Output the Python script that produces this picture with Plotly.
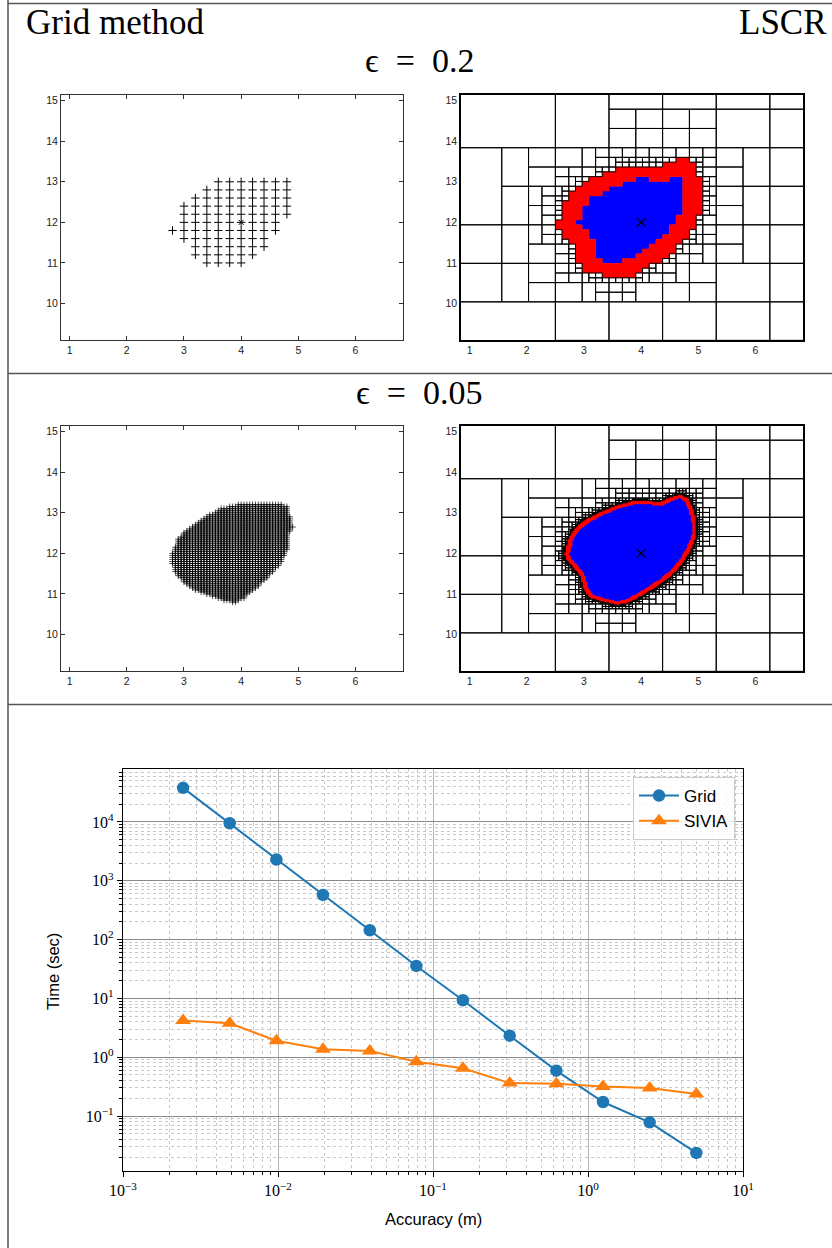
import numpy as np
import plotly.graph_objects as go

W, H = 832, 1248

# ---------------- bottom chart: timing data ----------------
accuracy_m = [0.00244, 0.00488, 0.00977, 0.0195, 0.0391, 0.0781, 0.156, 0.3125, 0.625, 1.25, 2.5, 5.0]
grid_time_s = [38000, 9500, 2300, 575, 144, 35.6, 9.3, 2.32, 0.59, 0.173, 0.078, 0.0236]
sivia_time_s = [4.2, 3.77, 1.91, 1.37, 1.28, 0.84, 0.65, 0.363, 0.354, 0.317, 0.30, 0.236]
x_tick_vals = [1e-3, 1e-2, 1e-1, 1, 10]
x_tick_text = ["10<sup>−3</sup>", "10<sup>−2</sup>", "10<sup>−1</sup>", "10<sup>0</sup>", "10<sup>1</sup>"]
y_tick_vals = [0.1, 1, 10, 100, 1000, 10000]
y_tick_text = ["10<sup>−1</sup>", "10<sup>0</sup>", "10<sup>1</sup>", "10<sup>2</sup>", "10<sup>3</sup>", "10<sup>4</sup>"]

# ---------------- top panels ----------------
panel_xticks = [1, 2, 3, 4, 5, 6]
panel_yticks = [10, 11, 12, 13, 14, 15]
panel_xrange = [0.85, 6.83]
panel_yrange = [9.1, 15.14]
true_x, true_y = [4.0], [12.0]

# grid method, eps = 0.2 : rows of accepted grid points
grid02_row_y = [13.0, 12.8, 12.6, 12.4, 12.2, 12.0, 11.8, 11.6, 11.4, 11.2, 11.0]
grid02_row_xmin = [3.6, 3.4, 3.2, 3.0, 3.0, 3.0, 2.8, 3.0, 3.2, 3.2, 3.4]
grid02_row_xmax = [4.8, 4.8, 4.8, 4.8, 4.8, 4.6, 4.6, 4.4, 4.4, 4.2, 4.0]

# grid method, eps = 0.05 : outline of accepted region
grid005_x = [2.76, 2.83, 2.92, 3.06, 3.24, 3.41, 3.68, 3.88, 4.0, 4.17, 4.35, 4.53, 4.67, 4.79,
             4.82, 4.85, 4.91, 4.85, 4.85, 4.59, 4.0, 3.68, 3.41, 3.18, 3.0, 2.89, 2.83, 2.76]
grid005_y = [11.87, 11.58, 11.40, 11.22, 11.06, 10.97, 10.85, 10.79, 10.85, 11.02, 11.26, 11.50,
             11.72, 12.03, 12.15, 12.52, 12.62, 12.93, 13.18, 13.22, 13.22, 13.13, 12.93, 12.69,
             12.52, 12.36, 12.11, 11.95]

# LSCR confidence region outline (outer edge of the eps = 0.05 paving)
lscr_x = [2.69, 2.76, 2.87, 3.05, 3.34, 3.63, 3.92, 4.16, 4.33, 4.50, 4.68, 4.80, 4.88, 4.94,
          4.94, 4.85, 4.71, 4.56, 4.39, 4.21, 3.98, 3.75, 3.57, 3.34, 3.11, 3.02, 2.96, 2.82, 2.71]
lscr_y = [11.99, 12.36, 12.61, 12.81, 13.02, 13.18, 13.28, 13.26, 13.22, 13.34, 13.42, 13.34,
          13.10, 12.77, 12.44, 12.11, 11.79, 11.54, 11.34, 11.17, 10.97, 10.80, 10.76, 10.84,
          10.93, 11.13, 11.46, 11.70, 11.87]

# SIVIA root box, large outer boxes kept unsplit, and pessimism of the test
root_box = [-5.0, 10.0, 4.34, 19.54]
coarse_outer_boxes = [
    [0.625, 2.5, 13.84, 15.74],
    [2.5, 3.4375, 13.84, 15.74],
    [0.625, 1.5625, 11.94, 13.84],
    [0.625, 2.5, 8.14, 10.04],
]
eps_values = [0.2, 0.05]
MIN_DEPTH = 8
ALPHA_OUT, B_OUT, BETA_IN = 0.68, 0.0, 1.1


def point_in_poly(px, py, vx, vy):
    px = np.asarray(px, float)
    py = np.asarray(py, float)
    inside = np.zeros(px.shape, bool)
    n = len(vx)
    j = n - 1
    for i in range(n):
        xi, yi, xj, yj = vx[i], vy[i], vx[j], vy[j]
        if yi != yj:
            cond = ((yi > py) != (yj > py)) & (px < (xj - xi) * (py - yi) / (yj - yi) + xi)
            inside ^= cond
        j = i
    return inside


def densify(vx, vy, n=40):
    xs, ys = [], []
    m = len(vx)
    for i in range(m):
        a, b = i, (i + 1) % m
        t = np.linspace(0, 1, n, endpoint=False)
        xs.append(vx[a] + (vx[b] - vx[a]) * t)
        ys.append(vy[a] + (vy[b] - vy[a]) * t)
    return np.concatenate(xs), np.concatenate(ys)


bx, by = densify(lscr_x, lscr_y)
coarse = np.array(coarse_outer_boxes)


def sivia(eps):
    boxes = np.array([root_box])
    depth = 0
    out_b, bnd_b, in_b = [], [], []
    while len(boxes):
        x0, x1, y0, y1 = boxes.T
        w = np.maximum(x1 - x0, y1 - y0)
        if depth < MIN_DEPTH:
            is_out = np.array([np.any(np.all(np.abs(coarse - b[None, :]) < 0.02, axis=1))
                               for b in boxes], bool)
            is_in = np.zeros(len(boxes), bool)
            small = np.zeros(len(boxes), bool)
        else:
            dx = np.maximum(np.maximum(x0[:, None] - bx[None, :], bx[None, :] - x1[:, None]), 0)
            dy = np.maximum(np.maximum(y0[:, None] - by[None, :], by[None, :] - y1[:, None]), 0)
            d = np.sqrt(dx * dx + dy * dy).min(axis=1)
            cin = point_in_poly((x0 + x1) / 2, (y0 + y1) / 2, lscr_x, lscr_y)
            is_out = (~cin) & (d > ALPHA_OUT * w + B_OUT)
            is_in = cin & (d > BETA_IN * w)
            small = w < eps
        rest = ~is_out & ~is_in
        out_b.append(boxes[is_out])
        in_b.append(boxes[is_in])
        bnd_b.append(boxes[rest & small])
        sp = boxes[rest & ~small]
        if len(sp) == 0:
            break
        if depth % 2 == 0:
            m = (sp[:, 0] + sp[:, 1]) / 2
            a = sp.copy(); a[:, 1] = m
            b = sp.copy(); b[:, 0] = m
        else:
            m = (sp[:, 2] + sp[:, 3]) / 2
            a = sp.copy(); a[:, 3] = m
            b = sp.copy(); b[:, 2] = m
        boxes = np.vstack([a, b])
        depth += 1
    return np.vstack(out_b), np.vstack(bnd_b), np.vstack(in_b)


def rect_path(bs):
    xs, ys = [], []
    for x0, x1, y0, y1 in bs:
        xs += [x0, x1, x1, x0, x0, None]
        ys += [y0, y0, y1, y1, y0, None]
    return xs, ys


# grid-method points
g02x, g02y = [], []
for yy, xa, xb in zip(grid02_row_y, grid02_row_xmin, grid02_row_xmax):
    n = int(round((xb - xa) / 0.2)) + 1
    for k in range(n):
        g02x.append(round(xa + 0.2 * k, 3))
        g02y.append(yy)

latx = np.round(np.arange(2.5, 5.2, 0.05), 3)
laty = np.round(np.arange(10.5, 13.5, 0.05), 3)
LX, LY = np.meshgrid(latx, laty)
mask = point_in_poly(LX.ravel(), LY.ravel(), grid005_x, grid005_y)
g005x = LX.ravel()[mask]
g005y = LY.ravel()[mask]

fig = go.Figure()


def dom_x(p0, p1):
    return [p0 / W, p1 / W]


def dom_y(p0, p1):
    return [1 - p1 / H, 1 - p0 / H]


panels = {
    1: (61, 403, 95, 340),
    2: (461, 803, 95, 340),
    3: (61, 403, 426, 671),
    4: (461, 803, 426, 671),
}

tickfont = dict(family="Liberation Sans, Arial, sans-serif", size=10.5, color="#222")
layout_axes = {}
for i, (px0, px1, py0, py1) in panels.items():
    gn = i in (1, 3)
    common = dict(showgrid=False, zeroline=False, showline=True, automargin=False,
                  linecolor="#333" if gn else "black", linewidth=1 if gn else 1.6,
                  mirror="ticks" if gn else True, ticks="inside" if gn else "",
                  ticklen=4, tickcolor="#333", tickfont=tickfont)
    layout_axes[f"xaxis{i}"] = dict(domain=dom_x(px0, px1), range=panel_xrange,
                                    tickvals=panel_xticks, anchor=f"y{i}", **common)
    layout_axes[f"yaxis{i}"] = dict(domain=dom_y(py0, py1), range=panel_yrange,
                                    tickvals=panel_yticks, anchor=f"x{i}", **common)

# panel 1: grid eps 0.2
fig.add_trace(go.Scatter(x=g02x, y=g02y, mode="markers", xaxis="x1", yaxis="y1", showlegend=False,
                         marker=dict(symbol="cross-thin", size=6, line=dict(width=1, color="black"))))
fig.add_trace(go.Scatter(x=true_x, y=true_y, mode="markers", xaxis="x1", yaxis="y1", showlegend=False,
                         marker=dict(symbol="x-thin", size=5, line=dict(width=1, color="black"))))
# panel 3: grid eps 0.05
fig.add_trace(go.Scatter(x=g005x, y=g005y, mode="markers", xaxis="x3", yaxis="y3", showlegend=False,
                         marker=dict(symbol="cross-thin", size=4.5, line=dict(width=0.7, color="black"))))

# panels 2 and 4: SIVIA pavings
for eps, ax in zip(eps_values, (2, 4)):
    ob, bb, ib = sivia(eps)
    xs, ys = rect_path(ib)
    fig.add_trace(go.Scatter(x=xs, y=ys, mode="lines", fill="toself", fillcolor="#0000ff",
                             line=dict(color="#0000ff", width=0.5), xaxis=f"x{ax}", yaxis=f"y{ax}",
                             showlegend=False, hoverinfo="skip"))
    xs, ys = rect_path(bb)
    fig.add_trace(go.Scatter(x=xs, y=ys, mode="lines", fill="toself", fillcolor="#ff0000",
                             line=dict(color="#ff0000", width=0.5), xaxis=f"x{ax}", yaxis=f"y{ax}",
                             showlegend=False, hoverinfo="skip"))
    xs, ys = rect_path(ob)
    fig.add_trace(go.Scatter(x=xs, y=ys, mode="lines", line=dict(color="black", width=1),
                             xaxis=f"x{ax}", yaxis=f"y{ax}", showlegend=False, hoverinfo="skip"))
    fig.add_trace(go.Scatter(x=true_x, y=true_y, mode="markers", xaxis=f"x{ax}", yaxis=f"y{ax}",
                             showlegend=False,
                             marker=dict(symbol="x-thin", size=9, line=dict(width=1.2, color="black"))))

# bottom chart
fig.add_trace(go.Scatter(x=accuracy_m, y=grid_time_s, name="Grid", mode="lines+markers",
                         xaxis="x5", yaxis="y5",
                         line=dict(color="#1f77b4", width=2),
                         marker=dict(symbol="circle", size=12.5, color="#1f77b4")))
fig.add_trace(go.Scatter(x=accuracy_m, y=sivia_time_s, name="SIVIA", mode="lines+markers",
                         xaxis="x5", yaxis="y5",
                         line=dict(color="#ff7f0e", width=2),
                         marker=dict(symbol="triangle-up", size=14, color="#ff7f0e")))

serif = "Liberation Serif, DejaVu Serif, serif"
sans = "Liberation Sans, Arial, sans-serif"
minor_common = dict(dtick="D1", ticks="outside", ticklen=2.5, tickcolor="black",
                    showgrid=True, gridcolor="#c8c8c8", griddash="dot", gridwidth=0.8)
layout_axes["xaxis5"] = dict(domain=dom_x(123, 743), type="log", range=[-3, 1],
                             tickvals=x_tick_vals, ticktext=x_tick_text,
                             tickfont=dict(family=serif, size=16, color="black"),
                             ticks="outside", ticklen=5, tickcolor="black",
                             showgrid=True, gridcolor="#b5b5b5", gridwidth=1,
                             minor=minor_common, showline=True, linecolor="black",
                             linewidth=1.2, mirror=True, zeroline=False, anchor="y5",
                             automargin=False)
layout_axes["yaxis5"] = dict(domain=dom_y(769, 1171), type="log", range=[-1.935, 4.90],
                             tickvals=y_tick_vals, ticktext=y_tick_text,
                             tickfont=dict(family=serif, size=16, color="black"),
                             ticks="outside", ticklen=5, tickcolor="black",
                             showgrid=True, gridcolor="#8a8a8a", gridwidth=1,
                             minor=minor_common, showline=True, linecolor="black",
                             linewidth=1.2, mirror=True, zeroline=False, anchor="x5",
                             automargin=False)

annotations = [
    dict(text="Grid method", x=24 / W, y=1 - 22 / H, xanchor="left", yanchor="middle",
         font=dict(family=serif, size=35, color="black")),
    dict(text="LSCR", x=829 / W, y=1 - 22 / H, xanchor="right", yanchor="middle",
         font=dict(family=serif, size=35, color="black")),
    dict(text="ϵ\u2002=\u20020.2", x=419 / W, y=1 - 60 / H, xanchor="center", yanchor="middle",
         font=dict(family=serif, size=34, color="black")),
    dict(text="ϵ\u2002=\u20020.05", x=419 / W, y=1 - 392 / H, xanchor="center", yanchor="middle",
         font=dict(family=serif, size=34, color="black")),
    dict(text="Accuracy (m)", x=433 / W, y=1 - 1219 / H, xanchor="center", yanchor="middle",
         font=dict(family=sans, size=16.5, color="black")),
    dict(text="Time (sec)", x=53 / W, y=1 - 972 / H, xanchor="center", yanchor="middle",
         textangle=-90, font=dict(family=sans, size=16.5, color="black")),
]
for a in annotations:
    a.update(xref="paper", yref="paper", showarrow=False)

line_style = dict(color="#555", width=1.5)
shapes = [
    dict(type="line", x0=8 / W, x1=8 / W, y0=0, y1=1, line=line_style),
    dict(type="line", x0=8 / W, x1=1, y0=1 - 3.5 / H, y1=1 - 3.5 / H, line=line_style),
    dict(type="line", x0=8 / W, x1=1, y0=1 - 373.5 / H, y1=1 - 373.5 / H, line=line_style),
    dict(type="line", x0=8 / W, x1=1, y0=1 - 704.5 / H, y1=1 - 704.5 / H, line=line_style),
]
for s in shapes:
    s.update(xref="paper", yref="paper")

fig.update_layout(
    width=W, height=H, margin=dict(l=0, r=0, t=0, b=0, pad=0, autoexpand=False),
    paper_bgcolor="white", plot_bgcolor="white",
    annotations=annotations, shapes=shapes,
    showlegend=True,
    legend=dict(x=735 / W, y=1 - 777 / H, xanchor="right", yanchor="top",
                bgcolor="rgba(255,255,255,0.85)", bordercolor="#cccccc", borderwidth=1,
                font=dict(family=sans, size=17, color="black"), itemwidth=40,
                tracegroupgap=0),
    **layout_axes,
)

fig.write_html("out.html", config={"displayModeBar": False},
               post_script="document.body.style.margin='0px';document.body.style.overflow='hidden';")
